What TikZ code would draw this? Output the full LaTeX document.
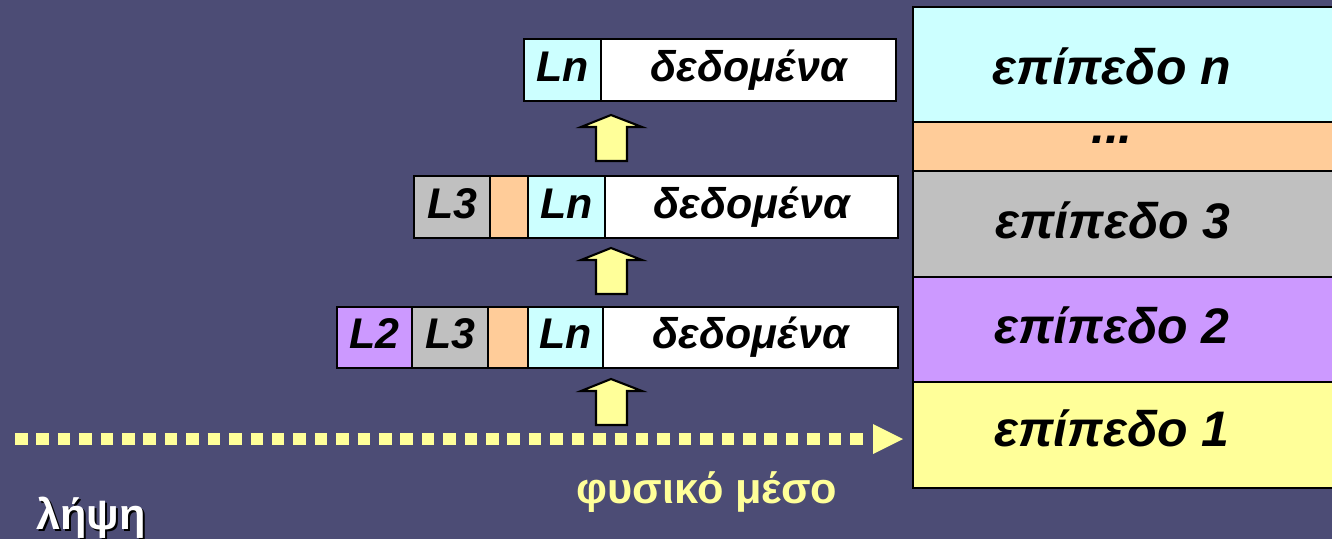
\documentclass[tikz,border=0pt]{standalone}
\usepackage{fontspec}
\setmainfont{Liberation Sans}
\definecolor{bg}{RGB}{76,76,117}
\definecolor{cy}{HTML}{CCFFFF}
\definecolor{orng}{HTML}{FFCC99}
\definecolor{gry}{HTML}{C0C0C0}
\definecolor{purp}{HTML}{CC99FF}
\definecolor{yel}{HTML}{FFFF99}
\tikzset{
 cell/.style={draw=black, line width=0.6pt, anchor=north west, inner sep=0pt,
   minimum height=0.62cm, font=\fontsize{12.2}{14}\selectfont\bfseries\itshape,
   text height=0.75em, text depth=0.12em},
 layer/.style={draw=black, line width=0.6pt, anchor=north west, inner sep=0pt, minimum width=4.28cm},
 lbl/.style={anchor=base, inner sep=0pt, font=\fontsize{14.2}{17}\selectfont\bfseries\itshape},
 uparrow/.style={fill=yel, draw=black, line width=0.6pt, line join=miter},
 medium/.style={yel, line width=0.115cm, dash pattern=on 0.125cm off 0.089cm},
 txt/.style={anchor=base, inner sep=0pt, font=\fontsize{12.3}{15}\selectfont\bfseries},
 uparr/.pic={\draw[uparrow] (0,0) -- (31,12) -- (16,12) -- (16,46) -- (-15,46) -- (-15,12) -- (-30,12) -- cycle;}
}
\begin{document}
\begin{tikzpicture}[x=0.01cm,y=-0.01cm]
\useasboundingbox (0,0) rectangle (1332,539);
\fill[bg] (0,0) rectangle (1332,539);
% layer stack
\node[layer, fill=cy,   minimum height=1.15cm] (ln) at (912,6) {};
\node[layer, fill=orng, minimum height=0.49cm] (ld) at (912,121) {};
\node[layer, fill=gry,  minimum height=1.06cm] (l3) at (912,170) {};
\node[layer, fill=purp, minimum height=1.05cm] (l2) at (912,276) {};
\node[layer, fill=yel,  minimum height=1.06cm] (l1) at (912,381) {};
\node[lbl] (tn) at (1112,84) {επίπεδο n};
\node[lbl] (td) at (1112,143) {...};
\node[lbl] (t3) at (1113,238) {επίπεδο 3};
\node[lbl] (t2) at (1112,343) {επίπεδο 2};
\node[lbl] (t1) at (1112,446) {επίπεδο 1};
% top packet
\node[cell, fill=cy,    minimum width=0.77cm] (an) at (523,38) {Ln};
\node[cell, fill=white, minimum width=2.95cm] (ad) at (600,38) {δεδομένα};
% middle packet
\node[cell, fill=gry,   minimum width=0.76cm] (b3) at (413,175) {L3};
\node[cell, fill=orng,  minimum width=0.38cm] (bo) at (489,175) {};
\node[cell, fill=cy,    minimum width=0.77cm] (bn) at (527,175) {Ln};
\node[cell, fill=white, minimum width=2.93cm] (bd) at (604,175) {δεδομένα};
% bottom packet
\node[cell, fill=purp,  minimum width=0.75cm, minimum height=0.61cm] (c2) at (336,306) {L2};
\node[cell, fill=gry,   minimum width=0.76cm, minimum height=0.61cm] (c3) at (411,306) {L3};
\node[cell, fill=orng,  minimum width=0.40cm, minimum height=0.61cm] (co) at (487,306) {};
\node[cell, fill=cy,    minimum width=0.75cm, minimum height=0.61cm] (cn) at (527,306) {Ln};
\node[cell, fill=white, minimum width=2.95cm, minimum height=0.61cm] (cd) at (602,306) {δεδομένα};
% up arrows
\pic at (611,115) {uparr};
\pic at (611,248) {uparr};
\pic at (611,379) {uparr};
% physical medium
\coordinate (ms) at (15,439);
\coordinate (me) at (903,439);
\draw[medium] (ms) -- ([xshift=-0.32cm]me);
\fill[yel] (me) -- ++(-30,-15) -- ++(0,30) -- cycle;
\node[txt, text=yel] (fm) at (707,503) {φυσικό μέσο};
\node[txt, text=black] at (93,531) {λήψη};
\node[txt, text=white] (rx) at (91,529) {λήψη};
\end{tikzpicture}
\end{document}
